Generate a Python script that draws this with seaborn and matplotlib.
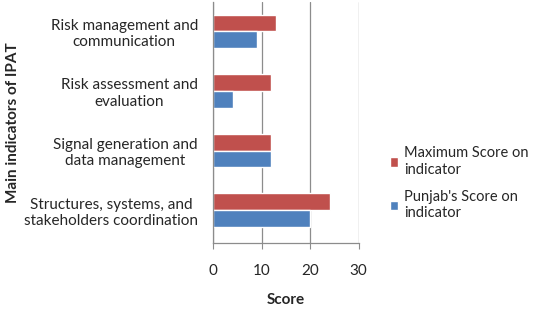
import pandas as pd
import seaborn as sns
import matplotlib.pyplot as plt

sns.set_style('white')
plt.rcParams['font.family'] = ['Lato', 'DejaVu Sans']

# Data
indicators = ['Risk management and\ncommunication',
              'Risk assessment and\nevaluation',
              'Signal generation and\ndata management',
              'Structures, systems, and\nstakeholders coordination']
max_score = [13, 12, 12, 24]
punjab_score = [9, 4, 12, 20]
series = ['Maximum Score on\nindicator', "Punjab's Score on\nindicator"]

df = pd.DataFrame({'Indicator': indicators * 2,
                   'Score': max_score + punjab_score,
                   'Series': [series[0]] * 4 + [series[1]] * 4})

fig = plt.figure(figsize=(5.33, 3.09), dpi=100)
ax = fig.add_axes([0.40, 0.214, 0.273, 0.781])

sns.barplot(data=df, x='Score', y='Indicator', hue='Series', hue_order=series,
            order=indicators, palette=['#C0504D', '#4F81BD'], width=0.56,
            saturation=1, ax=ax)

ax.set_xlim(0, 30)
ax.set_xticks([0, 10, 20, 30])
ax.set_ylim(3.55, -0.5)
ax.grid(axis='x', color='#8c8c8c', linewidth=0.9)
ax.set_axisbelow(True)
for s in ['top', 'right']:
    ax.spines[s].set_visible(False)
for s in ['left', 'bottom']:
    ax.spines[s].set_color('#8c8c8c')
    ax.spines[s].set_linewidth(0.9)
ax.tick_params(axis='x', length=4, color='#8c8c8c', direction='out',
               labelsize=11, pad=11, bottom=True)
ax.tick_params(axis='y', length=0, labelsize=11, pad=11)
for lab in ax.get_yticklabels():
    lab.set_horizontalalignment('right')
    lab.set_multialignment('center')

ax.set_xlabel('Score', fontsize=11, fontweight='bold', labelpad=11)
ax.set_ylabel('Main indicators of IPAT', fontsize=11, fontweight='bold')
ax.yaxis.set_label_coords(-1.33, 0.5)

ax.legend(loc='center left', bbox_to_anchor=(0.731, 0.407),
          bbox_transform=fig.transFigure, frameon=False, fontsize=10.5,
          handlelength=0.6, handleheight=0.6, handletextpad=0.4,
          labelspacing=0.9, borderpad=0, borderaxespad=0)

fig.savefig('out.png', dpi=100)
